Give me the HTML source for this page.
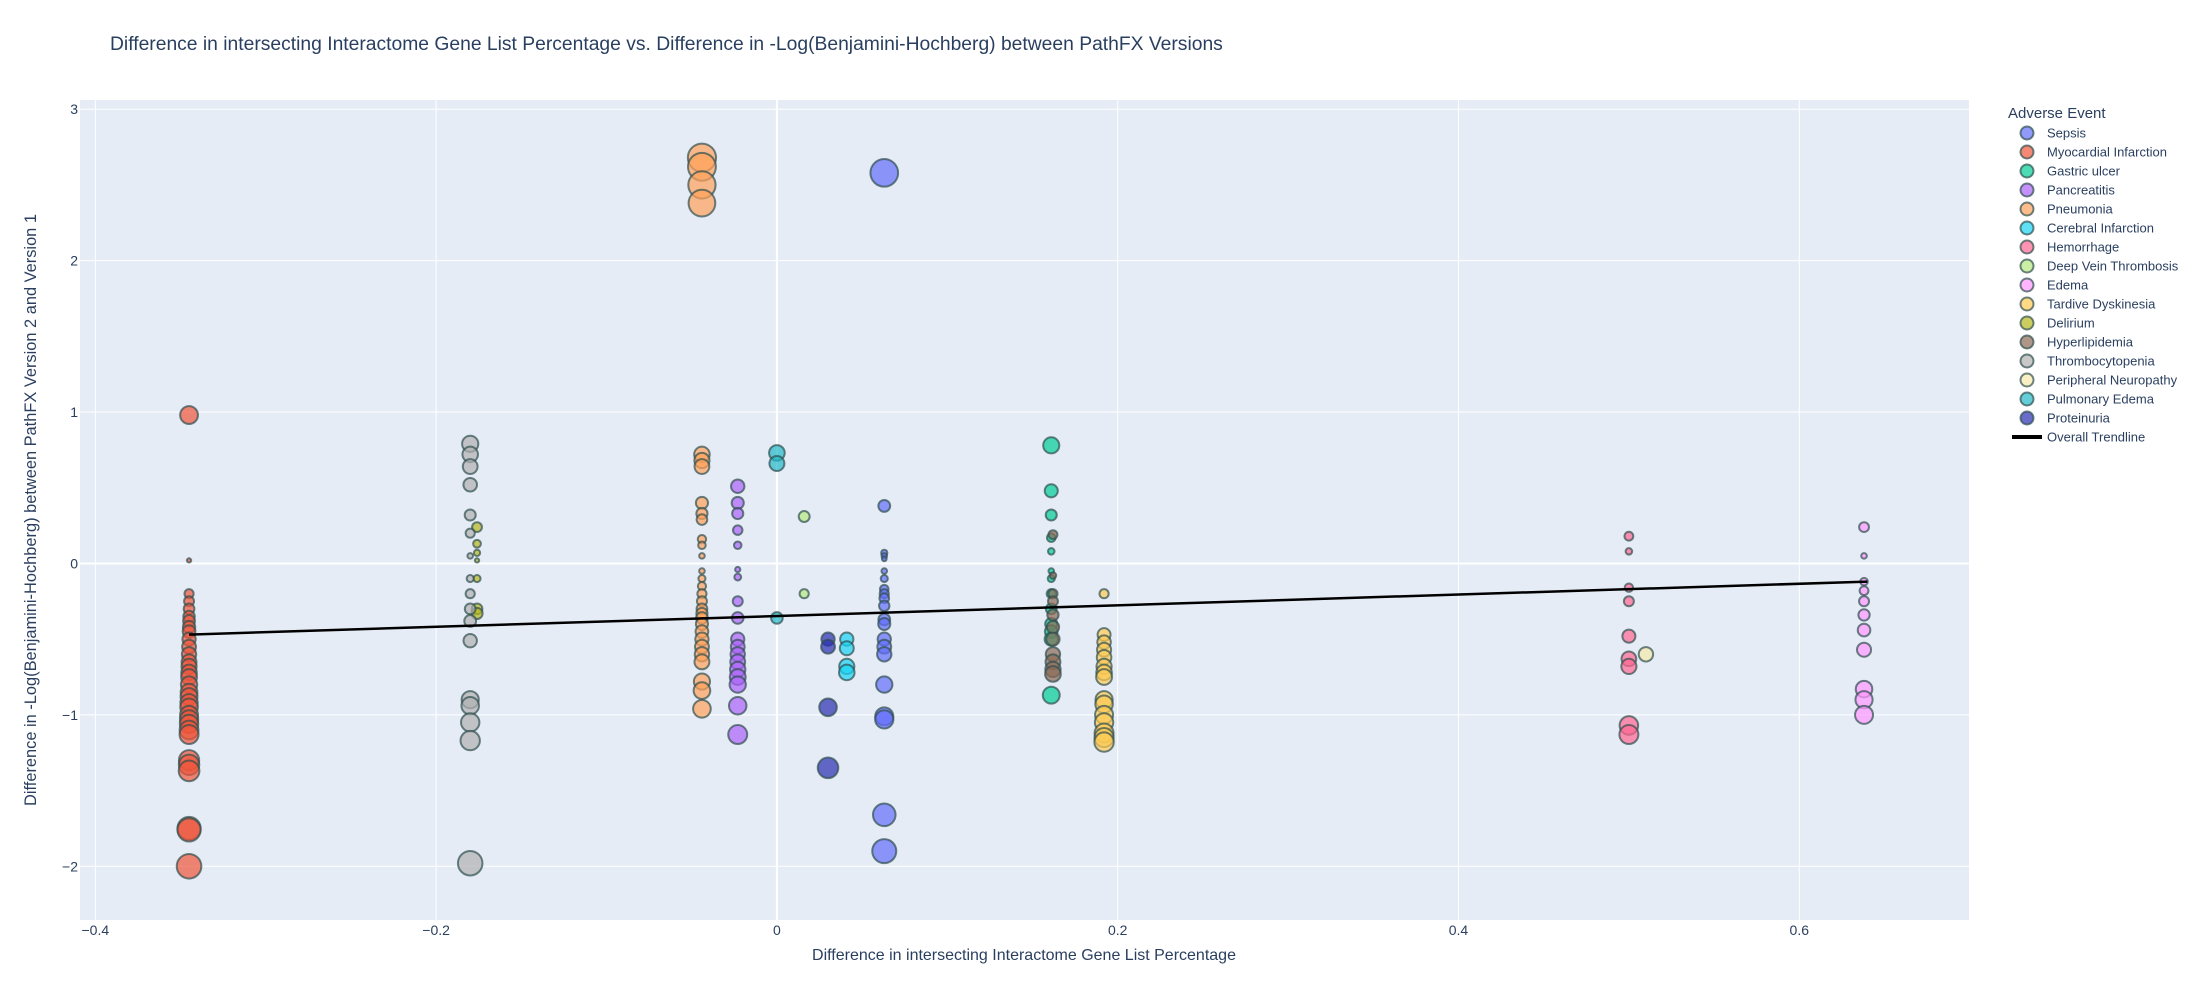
<!DOCTYPE html>
<html><head><meta charset="utf-8"><style>
html,body{margin:0;padding:0;background:#fff;}
svg text{font-family:"Liberation Sans",sans-serif;fill:#2a3f5f;}
</style></head><body>
<svg id="chart" width="2200" height="1000" xmlns="http://www.w3.org/2000/svg">
<text x="110" y="50" font-size="19.3">Difference in intersecting Interactome Gene List Percentage vs. Difference in -Log(Benjamini-Hochberg) between PathFX Versions</text>
<rect x="80" y="100" width="1889" height="820" fill="#e5ecf6"/>
<g id="grid"></g>
<g id="ticks"></g>
<g id="marks"></g>
<g id="legend"></g>
<text x="1024" y="960" font-size="16" text-anchor="middle">Difference in intersecting Interactome Gene List Percentage</text>
<text x="0" y="0" font-size="16.4" text-anchor="middle" transform="translate(36,510) rotate(-90)">Difference in -Log(Benjamini-Hochberg) between PathFX Version 2 and Version 1</text>
</svg>
<script>
const xTicks=[-0.4,-0.2,0,0.2,0.4,0.6];
const yTicks=[-2,-1,0,1,2,3];
const seriesNames=["Sepsis","Myocardial Infarction","Gastric ulcer","Pancreatitis","Pneumonia","Cerebral Infarction","Hemorrhage","Deep Vein Thrombosis","Edema","Tardive Dyskinesia","Delirium","Hyperlipidemia","Thrombocytopenia","Peripheral Neuropathy","Pulmonary Edema","Proteinuria"];
const seriesColors=["#636efa","#ef553b","#00cc96","#ab63fa","#ffa15a","#19d3f3","#ff6692","#b6e880","#ff97ff","#fecb52","#b5b81c","#8c6a55","#b0b0b0","#f7e8a8","#22b8c8","#2a2db0"];
const seriesX=[0.063,-0.345,0.161,-0.023,-0.044,0.041,0.5,0.016,0.638,0.192,-0.176,0.162,-0.18,0.51,0,0.03];
const sepsisY=[2.58,0.38,0.07,0.05,0.03,-0.05,-0.1,-0.17,-0.2,-0.23,-0.28,-0.37,-0.4,-0.5,-0.55,-0.6,-0.8,-1.01,-1.03,-1.66,-1.9];
const miY=[0.98,0.02,-0.2,-0.25,-0.3,-0.35,-0.38,-0.42,-0.45,-0.5,-0.55,-0.6,-0.65,-0.68,-0.72,-0.75,-0.8,-0.85,-0.88,-0.92,-0.95,-1.0,-1.03,-1.06,-1.1,-1.13,-1.3,-1.33,-1.37,-1.75,-1.76,-2.0];
const gastricY=[0.78,0.48,0.32,0.17,0.08,-0.05,-0.1,-0.2,-0.3,-0.4,-0.45,-0.5,-0.87];
const pancreatitisY=[0.51,0.4,0.33,0.22,0.12,-0.04,-0.09,-0.25,-0.36,-0.5,-0.55,-0.6,-0.65,-0.7,-0.75,-0.8,-0.94,-1.13];
const pneumoniaY=[2.68,2.62,2.5,2.38,0.72,0.68,0.64,0.4,0.33,0.29,0.16,0.12,0.05,-0.05,-0.1,-0.15,-0.2,-0.25,-0.3,-0.33,-0.36,-0.4,-0.45,-0.5,-0.55,-0.6,-0.65,-0.78,-0.84,-0.96];
const cerebralY=[-0.5,-0.56,-0.68,-0.72];
const hemorrhageY=[0.18,0.08,-0.16,-0.25,-0.48,-0.63,-0.68,-1.07,-1.13];
const dvtY=[0.31,-0.2];
const edemaY=[0.24,0.05,-0.12,-0.18,-0.25,-0.34,-0.44,-0.57,-0.83,-0.9,-1.0];
const tardiveY=[-0.2,-0.47,-0.52,-0.57,-0.62,-0.68,-0.72,-0.75,-0.9,-0.93,-1.0,-1.05,-1.12,-1.15,-1.18];
const deliriumY=[0.24,0.13,0.07,0.02,-0.1,-0.3,-0.33];
const hyperlipidemiaY=[0.19,-0.08,-0.2,-0.25,-0.34,-0.42,-0.5,-0.6,-0.65,-0.7,-0.73];
const thrombocytopeniaY=[0.79,0.72,0.64,0.52,0.32,0.2,0.05,-0.1,-0.2,-0.3,-0.38,-0.51,-0.9,-0.94,-1.05,-1.17,-1.98];
const neuropathyY=[-0.6];
const pulmonaryY=[0.73,0.66,-0.36];
const proteinuriaY=[-0.5,-0.55,-0.95,-1.35];
const seriesY=[sepsisY,miY,gastricY,pancreatitisY,pneumoniaY,cerebralY,hemorrhageY,dvtY,edemaY,tardiveY,deliriumY,hyperlipidemiaY,thrombocytopeniaY,neuropathyY,pulmonaryY,proteinuriaY];
const trendX=[-0.345,0.64];
const trendY=[-0.47,-0.12];

const NS="http://www.w3.org/2000/svg";
const X0=80,X1=1969,Y0=100,Y1=920;
const xMin=-0.409,xMax=0.6996,yMin=-2.355,yMax=3.061;
function sx(v){return X0+(v-xMin)/(xMax-xMin)*(X1-X0);}
function sy(v){return Y1-(v-yMin)/(yMax-yMin)*(Y1-Y0);}
function mk(tag,attrs,parent){const e=document.createElementNS(NS,tag);for(const k in attrs)e.setAttribute(k,attrs[k]);parent.appendChild(e);return e;}
const grid=document.getElementById('grid'),ticks=document.getElementById('ticks'),marks=document.getElementById('marks'),legend=document.getElementById('legend');
xTicks.forEach(t=>{
  const l=mk('line',{x1:sx(t),x2:sx(t),y1:Y0,y2:Y1,stroke:'#fff','stroke-width':t===0?2:1},grid);
  
  
  const tx=mk('text',{x:sx(t),y:935,'font-size':14,'text-anchor':'middle'},ticks);
  tx.textContent=(t<0?'\u2212':'')+Math.abs(t);
  
  
});
yTicks.forEach(t=>{
  const l=mk('line',{x1:X0,x2:X1,y1:sy(t),y2:sy(t),stroke:'#fff','stroke-width':t===0?2:1},grid);
  
  
  const tx=mk('text',{x:78,y:sy(t)+5,'font-size':14,'text-anchor':'end'},ticks);
  tx.textContent=(t<0?'\u2212':'')+Math.abs(t);
  
  
});
seriesNames.forEach((n,i)=>{
  const g=mk('g',{},marks);
  
  
  seriesY[i].forEach(v=>{
    const r=(2+16*Math.sqrt(Math.abs(v)))/2;
    const c=mk('circle',{cx:sx(seriesX[i]),cy:sy(v),r:r,fill:seriesColors[i],'fill-opacity':0.7,stroke:'#2f4f4f','stroke-opacity':0.7,'stroke-width':2},g);
    
    
  });
});
const tl=mk('line',{x1:sx(trendX[0]),y1:sy(trendY[0]),x2:sx(trendX[1]),y2:sy(trendY[1]),stroke:'#000','stroke-width':2.5},marks);


const lt=mk('text',{x:2008,y:118,'font-size':15},legend);
lt.textContent='Adverse Event';


seriesNames.forEach((n,i)=>{
  const y=133+i*19;
  const g=mk('g',{},legend);
  
  
  mk('circle',{cx:2027,cy:y,r:6.5,fill:seriesColors[i],'fill-opacity':0.7,stroke:'#2f4f4f','stroke-opacity':0.7,'stroke-width':2},g);
  const t=mk('text',{x:2047,y:y+4.5,'font-size':13},g);
  t.textContent=n;
});
const tg=mk('g',{},legend);


mk('line',{x1:2012,x2:2042,y1:437,y2:437,stroke:'#000','stroke-width':4},tg);
const tt=mk('text',{x:2047,y:441.5,'font-size':13},tg);
tt.textContent='Overall Trendline';
</script>
</body></html>
